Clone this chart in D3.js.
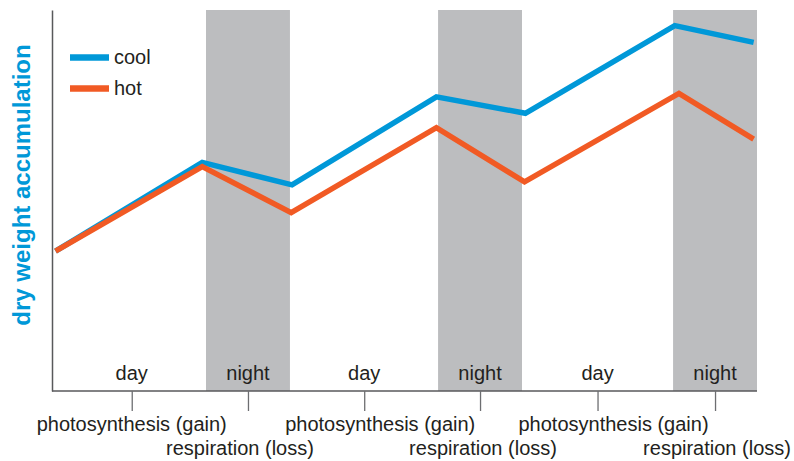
<!DOCTYPE html>
<html>
<head>
<meta charset="utf-8">
<script src="https://cdn.jsdelivr.net/npm/d3@7"></script>
<style>
  html, body { margin: 0; padding: 0; background: #fff; }
  svg { display: block; font-family: "Liberation Sans", Arial, Helvetica, sans-serif; }
</style>
</head>
<body>
<svg id="chart" width="794" height="461"></svg>
<script>
// ---- data (hours along a 3-day cycle, relative dry weight) ----
const nightBands = [[18.35, 28.35], [46, 56], [74, 84]];
const periodLabels = ["day", "night", "day", "night", "day", "night"];
const periodCenters = [9.5, 23.35, 37.2, 51, 65, 79];
const gainLabel = "photosynthesis (gain)";
const lossLabel = "respiration (loss)";
const seriesNames = ["cool", "hot"];
const coolHours = [0.42, 17.9, 28.6, 45.8, 56.4, 74.2, 83.6];
const coolValues = [36.7, 60.0, 54.1, 77.2, 72.9, 95.9, 91.5];
const hotHours = [0.42, 17.9, 28.5, 45.8, 56.3, 74.7, 83.6];
const hotValues = [36.7, 58.9, 46.8, 69.1, 54.9, 78.1, 66.1];
const yTitle = "dry weight accumulation";

(function () {
// ---- layout ----
const mLeft = 52, mRight = 757, mTop = 10, mBottom = 391;
const colors = { cool: "#0098d8", hot: "#f15a24" };

const svg = d3.select("#chart");
const x = d3.scaleLinear().domain([0, 84]).range([mLeft, mRight]);
const y = d3.scaleLinear().domain([0, 100]).range([mBottom, mTop]);

// night bands
svg.append("g").selectAll("rect").data(nightBands).join("rect")
  .attr("x", d => x(d[0])).attr("y", y(100))
  .attr("width", d => x(d[1]) - x(d[0]))
  .attr("height", y(0) - y(100))
  .attr("fill", "#bcbdbf");

// axes
const xAxis = d3.axisBottom(x).tickValues(periodCenters).tickSize(20).tickFormat("");
const gx = svg.append("g").attr("transform", `translate(0,${mBottom})`).call(xAxis);
gx.select(".domain").attr("stroke", "#58595b").attr("stroke-width", 1.5).attr("d", `M${mLeft},0H${mRight}`);
gx.selectAll(".tick line").attr("stroke", "#6d6e71").attr("stroke-width", 1.3);

const yAxis = d3.axisLeft(y).tickValues([]).tickSizeOuter(0);
const gy = svg.append("g").attr("transform", `translate(${mLeft},0)`).call(yAxis);
gy.select(".domain").attr("stroke", "#58595b").attr("stroke-width", 1.5);

// period labels
svg.append("g").selectAll("text").data(periodLabels).join("text")
  .attr("x", (d, i) => x(periodCenters[i]))
  .attr("y", 380)
  .attr("text-anchor", "middle")
  .attr("font-size", 20)
  .attr("fill", "#231f20")
  .text(d => d);

// process labels below axis
const gainShift = [0, 16, 16];
const lossShift = [-8, 3, 2];
const dayCenters = periodCenters.filter((d, i) => i % 2 === 0);
const nightCenters = periodCenters.filter((d, i) => i % 2 === 1);
svg.append("g").selectAll("text").data(dayCenters).join("text")
  .attr("x", (d, i) => x(d) + gainShift[i])
  .attr("y", 431)
  .attr("text-anchor", "middle")
  .attr("font-size", 20)
  .attr("fill", "#231f20")
  .text(gainLabel);
svg.append("g").selectAll("text").data(nightCenters).join("text")
  .attr("x", (d, i) => x(d) + lossShift[i])
  .attr("y", 455)
  .attr("text-anchor", "middle")
  .attr("font-size", 20)
  .attr("fill", "#231f20")
  .text(lossLabel);

// lines
const line = d3.line().x(d => x(d[0])).y(d => y(d[1]));
const series = [
  { name: "cool", pts: coolHours.map((h, i) => [h, coolValues[i]]) },
  { name: "hot", pts: hotHours.map((h, i) => [h, hotValues[i]]) }
];
svg.append("g").selectAll("path").data(series).join("path")
  .attr("d", d => line(d.pts))
  .attr("fill", "none")
  .attr("stroke", d => colors[d.name])
  .attr("stroke-width", 5.5)
  .attr("stroke-linejoin", "miter")
  .attr("stroke-linecap", "butt");

// legend
const lg = svg.append("g");
seriesNames.forEach((n, i) => {
  const ly = 57.5 + i * 31;
  lg.append("line").attr("x1", 70).attr("x2", 109).attr("y1", ly).attr("y2", ly)
    .attr("stroke", colors[n]).attr("stroke-width", 6.5);
  lg.append("text").attr("x", 114).attr("y", ly + 6.5)
    .attr("font-size", 20).attr("fill", "#231f20").text(n);
});

// y title
svg.append("text")
  .attr("transform", "translate(30,185) rotate(-90)")
  .attr("text-anchor", "middle")
  .attr("font-size", 24)
  .attr("font-weight", "bold")
  .attr("fill", colors.cool)
  .text(yTitle);
})();
</script>
</body>
</html>
